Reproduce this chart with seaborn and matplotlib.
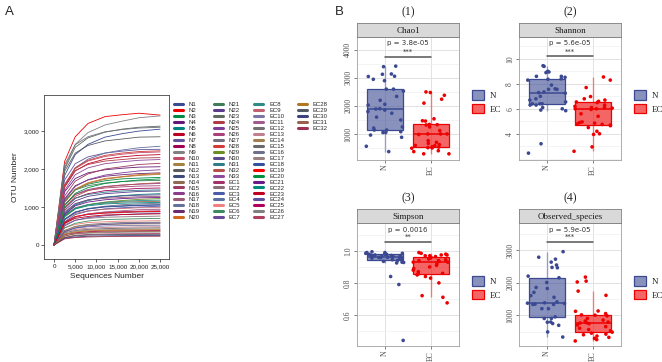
import numpy as np
import pandas as pd
import matplotlib
matplotlib.use('Agg')
import matplotlib.pyplot as plt
import seaborn as sns
from matplotlib.lines import Line2D
from matplotlib.patches import Patch
from matplotlib.colors import to_rgba
from matplotlib.ticker import FuncFormatter, MultipleLocator, FixedLocator

# ---------------------------------------------------------------------------
# data: rarefaction curves (panel A)
# ---------------------------------------------------------------------------
seq_depths = [0, 2500, 5000, 8000, 12000, 16000, 20000, 25000]

n_names = [f'N{i}' for i in range(1, 34)]
ec_names = [f'EC{i}' for i in range(1, 33)]

n_curves = [
    [0, 1830, 2380, 2650, 2840, 2930, 3000, 3050],
    [0, 2200, 2850, 3200, 3380, 3430, 3470, 3420],
    [0, 1140, 1460, 1600, 1690, 1740, 1760, 1780],
    [0, 1400, 1750, 1900, 1980, 2020, 2050, 2060],
    [0, 810, 1050, 1170, 1260, 1300, 1330, 1350],
    [0, 1520, 1950, 2140, 2260, 2320, 2360, 2380],
    [0, 1710, 2140, 2320, 2420, 2470, 2510, 2520],
    [0, 960, 1230, 1350, 1430, 1460, 1490, 1500],
    [0, 2040, 2650, 2960, 3160, 3260, 3350, 3400],
    [0, 1570, 2010, 2210, 2330, 2390, 2430, 2450],
    [0, 1120, 1450, 1620, 1730, 1790, 1830, 1860],
    [0, 1940, 2420, 2620, 2740, 2790, 2840, 2850],
    [0, 680, 870, 950, 1010, 1030, 1050, 1060],
    [0, 780, 980, 1060, 1100, 1130, 1140, 1150],
    [0, 1290, 1680, 1870, 2000, 2060, 2120, 2150],
    [0, 1040, 1330, 1460, 1540, 1580, 1600, 1620],
    [0, 870, 1090, 1180, 1230, 1250, 1270, 1280],
    [0, 1560, 2030, 2260, 2420, 2500, 2560, 2600],
    [0, 1220, 1560, 1710, 1810, 1850, 1880, 1900],
    [0, 1130, 1470, 1640, 1750, 1800, 1850, 1880],
    [0, 1160, 1450, 1560, 1630, 1670, 1690, 1700],
    [0, 910, 1160, 1280, 1350, 1380, 1410, 1420],
    [0, 2000, 2570, 2820, 2970, 3050, 3100, 3130],
    [0, 1560, 1960, 2120, 2210, 2250, 2290, 2300],
    [0, 1190, 1540, 1720, 1840, 1900, 1950, 1980],
    [0, 1060, 1330, 1440, 1500, 1530, 1550, 1560],
    [0, 2110, 2640, 2850, 2980, 3040, 3080, 3100],
    [0, 1590, 2030, 2230, 2360, 2420, 2460, 2480],
    [0, 730, 950, 1060, 1130, 1170, 1200, 1220],
    [0, 840, 1080, 1190, 1250, 1290, 1310, 1320],
    [0, 990, 1230, 1330, 1390, 1420, 1440, 1450],
    [0, 980, 1280, 1430, 1530, 1570, 1610, 1640],
    [0, 1440, 1850, 2030, 2140, 2190, 2230, 2250],
]

ec_curves = [
    [0, 580, 740, 810, 860, 880, 890, 900],
    [0, 530, 650, 700, 730, 740, 750, 760],
    [0, 610, 800, 890, 950, 980, 1000, 1020],
    [0, 590, 740, 800, 840, 850, 870, 870],
    [0, 450, 540, 590, 610, 630, 630, 640],
    [0, 450, 570, 630, 670, 680, 690, 700],
    [0, 500, 650, 720, 770, 800, 820, 830],
    [0, 760, 970, 1060, 1120, 1150, 1170, 1180],
    [0, 670, 830, 900, 940, 960, 980, 980],
    [0, 360, 440, 480, 500, 510, 515, 520],
    [0, 560, 730, 820, 870, 900, 930, 940],
    [0, 380, 490, 540, 570, 590, 595, 600],
    [0, 340, 410, 440, 460, 470, 475, 480],
    [0, 380, 480, 520, 540, 550, 555, 560],
    [0, 320, 380, 410, 430, 440, 445, 450],
    [0, 660, 860, 960, 1020, 1060, 1080, 1100],
    [0, 290, 360, 390, 400, 410, 415, 420],
    [0, 670, 860, 950, 1000, 1020, 1040, 1050],
    [0, 600, 750, 810, 840, 860, 875, 880],
    [0, 1040, 1360, 1510, 1620, 1670, 1710, 1740],
    [0, 800, 1030, 1130, 1190, 1220, 1240, 1250],
    [0, 760, 950, 1030, 1080, 1100, 1110, 1120],
    [0, 570, 700, 750, 790, 800, 810, 820],
    [0, 350, 450, 500, 540, 560, 570, 580],
    [0, 270, 320, 350, 365, 370, 375, 380],
    [0, 240, 290, 310, 325, 335, 338, 340],
    [0, 200, 255, 275, 290, 295, 298, 300],
    [0, 280, 340, 370, 385, 390, 395, 400],
    [0, 190, 240, 260, 270, 275, 278, 280],
    [0, 175, 210, 230, 240, 245, 248, 250],
    [0, 230, 300, 325, 345, 350, 355, 360],
    [0, 160, 195, 210, 220, 225, 228, 230],
]

curve_colors = [
    # N1 - N20
    '#3B4992', '#EE0000', '#008B45', '#631879', '#008280', '#BB0021', '#5F559B',
    '#A20056', '#808180', '#BE4D67', '#A6803E', '#5A5C60', '#3F4A7C', '#8F6A50',
    '#9E3A5F', '#8A3D8C', '#9A5A74', '#6670A0', '#6C2A6E', '#D2691E',
    # N21 - N33
    '#3E7D5A', '#5B3C8C', '#5E6B5E', '#B23A48', '#7D3C98', '#A8417A', '#707080',
    '#D33A3A', '#6B8E23', '#5A4A8A', '#2E7D8A', '#B4524A', '#8E4A9C',
    # EC1 - EC32
    '#A3306B', '#8C6D7A', '#4A5BA8', '#5B6FA0', '#F08080', '#3D8A5E', '#6B4A9A',
    '#2E8B87', '#C06070', '#7D74A8', '#A05A8C', '#707070', '#C08090', '#A08050',
    '#6A6A6A', '#6E6E8E', '#9A8080', '#3050A0', '#FF0000', '#009040', '#6A1B8A',
    '#008B80', '#C00020', '#5A50A0', '#B0005A', '#808080', '#B04060', '#B07820',
    '#505A65', '#3A4280', '#98604F', '#A0304F',
]

# ---------------------------------------------------------------------------
# data: alpha diversity (panel B)
# ---------------------------------------------------------------------------
group_names = ['N', 'EC']
group_colors = ['#3B4992', '#EE0000']

chao1_n = [3050, 3420, 3130, 2600, 2530, 2600, 2060, 2030, 1890, 1850, 1740, 2340,
           2200, 1800, 1600, 1500, 1210, 1050, 880, 560, 370, 1250, 1140, 1140,
           1080, 960, 1050, 3060, 3140, 3400, 2950, 2900, 1900]
chao1_ec = [2480, 2500, 2380, 2240, 2100, 1540, 1470, 1340, 1460, 1330, 1320, 1250,
            1120, 1000, 1000, 980, 1000, 760, 660, 700, 540, 510, 490, 590, 620,
            500, 530, 290, 400, 370, 290, 580]

shannon_n = [8.6, 8.52, 8.4, 8.37, 8.6, 8.3, 9.4, 9.45, 9.0, 8.9, 8.95, 7.56, 7.56,
             7.6, 7.9, 7.35, 7.3, 7.25, 7.0, 6.8, 6.7, 6.55, 6.4, 6.4, 6.3, 6.3,
             6.1, 6.0, 5.9, 5.85, 2.45, 3.2, 6.4]
shannon_ec = [8.55, 8.3, 7.7, 6.98, 6.8, 6.7, 6.6, 6.55, 6.5, 6.3, 6.2, 6.1, 6.1,
              6.05, 6.0, 6.0, 5.95, 5.6, 5.4, 4.95, 4.9, 4.85, 4.8, 4.75, 4.7,
              4.65, 4.5, 4.2, 4.0, 3.95, 2.95, 2.6]

simpson_n = [0.985, 0.99, 0.98, 0.975, 0.97, 0.97, 0.965, 0.975, 0.98, 0.96, 0.955,
             0.95, 0.985, 0.99, 0.97, 0.96, 0.968, 0.972, 0.978, 0.962, 0.958,
             0.945, 0.94, 0.935, 0.93, 0.925, 0.928, 0.995, 0.982, 0.952, 0.84,
             0.79, 0.44]
simpson_ec = [0.99, 0.985, 0.98, 0.975, 0.975, 0.97, 0.97, 0.965, 0.96, 0.955, 0.95,
              0.945, 0.94, 0.94, 0.935, 0.93, 0.93, 0.92, 0.91, 0.9, 0.89, 0.88,
              0.87, 0.86, 0.855, 0.85, 0.84, 0.83, 0.80, 0.71, 0.72, 0.675]

observed_n = [2456, 2200, 2467, 2540, 2005, 1852, 1340, 1410, 1700, 1600, 1550, 1360,
              1370, 1820, 2150, 2630, 2720, 2780, 2950, 950, 1200, 1330, 1200, 1330,
              1380, 900, 900, 785, 745, 790, 690, 487, 330]
observed_ec = [2046, 2020, 2170, 1740, 1610, 1120, 1130, 1000, 1050, 1010, 980, 900,
               850, 820, 790, 770, 760, 740, 700, 650, 600, 560, 520, 480, 450, 420,
               400, 360, 320, 290, 250, 210]

metric_names = ['Chao1', 'Shannon', 'Simpson', 'Observed_species']
panel_titles = ['(1)', '(2)', '(3)', '(4)']
p_labels = ['p = 3.8e-05', 'p = 5.6e-05', 'p = 0.0016', 'p = 5.9e-05']
sig_stars = ['***', '***', '**', '***']
metric_values = [(chao1_n, chao1_ec), (shannon_n, shannon_ec),
                 (simpson_n, simpson_ec), (observed_n, observed_ec)]

# ---------------------------------------------------------------------------
# figure
# ---------------------------------------------------------------------------
sns.set_theme(style='white')
plt.rcParams['font.family'] = ['Liberation Sans', 'DejaVu Sans']
SERIF = 'Liberation Serif'

W, H = 662, 362
fig = plt.figure(figsize=(W / 100, H / 100), dpi=100)


def px_axes(l, t, r, b):
    return fig.add_axes([l / W, 1 - b / H, (r - l) / W, (b - t) / H])


fig.text(5 / W, 1 - 12 / H, 'A', fontsize=9.5, ha='left', va='center')
fig.text(335 / W, 1 - 12 / H, 'B', fontsize=9.5, ha='left', va='center')

# ---------------- panel A: rarefaction curves ----------------
sample_names = n_names + ec_names
rows = []
for name, vals in zip(sample_names, n_curves + ec_curves):
    for d, v in zip(seq_depths, vals):
        rows.append((name, d, v))
df_rare = pd.DataFrame(rows, columns=['sample', 'depth', 'otu'])

axA = px_axes(44, 95, 169, 259)
sns.lineplot(data=df_rare, x='depth', y='otu', hue='sample', hue_order=sample_names,
             palette=curve_colors, linewidth=0.6, legend=False, ax=axA)
axA.set_xlim(-2360, 27100)
axA.set_ylim(-370, 3950)
axA.set_xticks([0, 5000, 10000, 15000, 20000, 25000])
axA.set_yticks([0, 1000, 2000, 3000])
fmt = FuncFormatter(lambda v, p: f'{int(v):,}')
axA.xaxis.set_major_formatter(fmt)
axA.yaxis.set_major_formatter(fmt)
axA.tick_params(labelsize=4.5, length=2, width=0.5, pad=1.5, colors='#222222', bottom=True, left=True)
for s in axA.spines.values():
    s.set_color('#444444')
    s.set_linewidth(0.6)
axA.set_xlabel('Sequences Number', fontsize=6, labelpad=3)
axA.set_ylabel('OTU Number', fontsize=6, labelpad=3)

handles = [Line2D([], [], color=c, lw=2.2) for c in curve_colors]
labels = list(sample_names)
while len(handles) < 80:
    handles.append(Line2D([], [], color='none', lw=0))
    labels.append('')
fig.legend(handles, labels, ncol=4, loc='upper left', bbox_to_anchor=(174 / W, 1 - 102 / H),
           frameon=False, fontsize=4.3, handlelength=1.5, handletextpad=1.0,
           columnspacing=2.3, labelspacing=0.13, borderpad=0, borderaxespad=0)

# ---------------- panel B: alpha diversity boxplots ----------------
panel_px = [(357, 23, 459, 160), (519, 23, 621, 160), (357, 209, 459, 346), (519, 209, 621, 346)]
ylims = [(70, 4460), (1.9, 11.75), (0.405, 1.175), (55, 3830)]
yticks = [[1000, 2000, 3000, 4000], [4, 6, 8, 10], [0.6, 0.8, 1.0], [1000, 2000, 3000]]
yminor = [500, 1, 0.1, 500]
ytick_fmt = ['{:.0f}', '{:.0f}', '{:.1f}', '{:.0f}']
bracket_y = [(3760, 4250, 3930), (10.19, 11.25, 10.6), (1.054, 1.131, 1.086), (3237, 3615, 3410)]

for i in range(4):
    l, t, r, b = panel_px[i]
    vals_n, vals_ec = metric_values[i]
    df = pd.DataFrame({'group': ['N'] * len(vals_n) + ['EC'] * len(vals_ec),
                       'value': vals_n + vals_ec})

    ax = px_axes(l, t + 14, r, b)
    ax.set_axisbelow(True)
    for grp, col in zip(group_names, group_colors):
        nl, npch = len(ax.lines), len(ax.patches)
        sns.boxplot(data=df[df['group'] == grp], x='group', y='value', order=group_names,
                    width=0.77, showfliers=False, showcaps=False, linewidth=0.9, ax=ax)
        for p in ax.patches[npch:]:
            p.set_facecolor(to_rgba(col, 0.6))
            p.set_edgecolor(col)
        for ln in ax.lines[nl:]:
            xd = ln.get_xdata()
            if abs(xd[0] - xd[-1]) > 1e-9:
                ln.set_color(col)
                ln.set_linewidth(1.1)
            else:
                ln.set_color(to_rgba(col, 0.45))
                ln.set_linewidth(1.0)
    np.random.seed(7 + i)
    sns.stripplot(data=df, x='group', y='value', order=group_names, hue='group',
                  hue_order=group_names, palette=group_colors, jitter=0.42, size=2.6,
                  linewidth=0, legend=False, ax=ax, zorder=3)

    y_line, y_p, y_star = bracket_y[i]
    ax.plot([0, 1], [y_line, y_line], color='#555555', lw=1.1, zorder=4)
    ax.text(0.5, y_p, p_labels[i], ha='center', va='center', fontsize=5, color='#333333',
            family='DejaVu Sans')
    ax.text(0.5, y_star, sig_stars[i], ha='center', va='center', fontsize=5, color='#333333',
            family='DejaVu Sans')

    ax.set_xlim(-0.6, 1.6)
    ax.set_ylim(*ylims[i])
    ax.yaxis.set_major_locator(FixedLocator(yticks[i]))
    ax.set_yticklabels([ytick_fmt[i].format(v) for v in yticks[i]])
    ax.yaxis.set_minor_locator(MultipleLocator(yminor[i]))
    ax.grid(which='major', color='#E2E2E2', lw=0.7)
    ax.grid(which='minor', axis='y', color='#F0F0F0', lw=0.5)
    ax.set_xlabel('')
    ax.set_ylabel('')
    ax.tick_params(axis='both', which='major', labelsize=5.5, length=2, width=0.5, pad=1.5,
                   colors='#4D4D4D', bottom=True, left=True)
    ax.tick_params(which='minor', length=0)
    for lbl in ax.get_yticklabels():
        lbl.set_rotation(90)
        lbl.set_va('center')
        lbl.set_family(SERIF)
    for lbl in ax.get_xticklabels():
        lbl.set_rotation(90)
        lbl.set_ha('center')
        lbl.set_va('top')
        lbl.set_family(SERIF)
    for s in ax.spines.values():
        s.set_color('#A0A0A0')
        s.set_linewidth(0.6)

    # facet strip
    sax = px_axes(l, t, r, t + 14)
    sax.set_facecolor('#D9D9D9')
    sax.set_xticks([])
    sax.set_yticks([])
    for s in sax.spines.values():
        s.set_color('#808080')
        s.set_linewidth(0.6)
    sax.text(0.5, 0.45, metric_names[i], ha='center', va='center', fontsize=6.5,
             family=SERIF, color='#1A1A1A', transform=sax.transAxes)

    fig.text((l + r) / 2 / W, 1 - (t - 11) / H, panel_titles[i], ha='center', va='center',
             fontsize=8.5, family=SERIF)

    leg_handles = [Patch(facecolor=to_rgba(c, 0.6), edgecolor=c, lw=0.9) for c in group_colors]
    ax.legend(leg_handles, group_names, loc='center left', bbox_to_anchor=(1.127, 0.47),
              frameon=False, prop={'family': SERIF, 'size': 6.5}, handlelength=1.33,
              handleheight=1.2, labelspacing=0.45, handletextpad=0.6, borderpad=0,
              borderaxespad=0)

fig.savefig('out.png', dpi=100)
plt.close(fig)
